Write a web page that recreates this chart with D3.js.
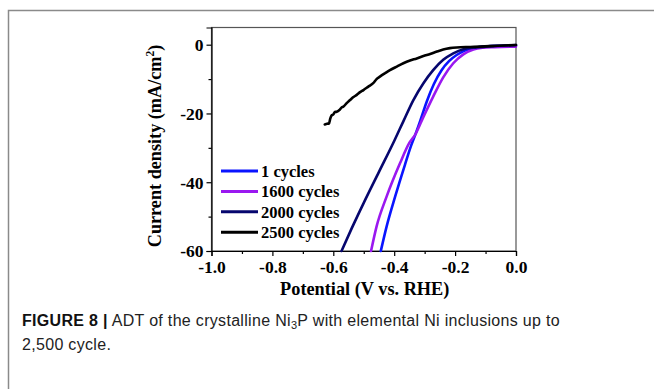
<!DOCTYPE html>
<html>
<head>
<meta charset="utf-8">
<script src="https://cdn.jsdelivr.net/npm/d3@7"></script>
<style>
    body { margin: 0; background: #fff; }
    svg { display: block; }
    .tick text { font-family: "Liberation Serif", "Times New Roman", serif; font-weight: bold; font-size: 17.5px; fill: #000; }
    .axis path, .axis line { stroke: #000; stroke-width: 1.2; }
    .series { fill: none; stroke-width: 2.6; stroke-linejoin: round; stroke-linecap: round; }
</style>
</head>
<body>
<svg id="chart" width="654" height="389"></svg>
<script>
// LSV curves: [potential V vs RHE, current density mA/cm2]
const cycles1 = [[-0.444,-60],[-0.425,-52.9],[-0.397,-44.2],[-0.365,-35.0],[-0.345,-29.5],[-0.330,-26.0],
    [-0.314,-22.0],[-0.293,-16.5],[-0.270,-11.5],[-0.245,-7.5],[-0.220,-4.8],[-0.195,-3.0],[-0.170,-1.8],
    [-0.140,-1.0],[-0.100,-0.5],[-0.050,-0.3],[0,-0.2]];
const cycles1600 = [[-0.476,-60],[-0.458,-52.9],[-0.425,-44.2],[-0.381,-34.5],[-0.350,-28.5],[-0.330,-26.0],
    [-0.304,-21.0],[-0.272,-15.1],[-0.239,-9.5],[-0.206,-5.4],[-0.173,-2.8],[-0.140,-1.4],[-0.110,-0.9],
    [-0.070,-0.7],[0,-0.55]];
const cycles2000 = [[-0.573,-60],[-0.540,-53.5],[-0.500,-46.0],[-0.450,-37.0],[-0.400,-28.0],[-0.370,-22.3],
    [-0.337,-16.1],[-0.304,-11.2],[-0.272,-7.4],[-0.239,-4.4],[-0.206,-2.5],[-0.173,-1.3],[-0.129,-0.8],
    [-0.070,-0.4],[0,-0.1]];
const cycles2500 = [[-0.628,-23.2],[-0.620,-23.0],[-0.614,-22.9],[-0.610,-21.5],[-0.606,-20.6],[-0.600,-20.3],
    [-0.595,-19.6],[-0.589,-19.5],[-0.580,-19.0],[-0.572,-18.2],[-0.567,-18.0],[-0.556,-17.0],[-0.545,-16.1],
    [-0.535,-15.3],[-0.523,-14.6],[-0.512,-13.8],[-0.501,-13.2],[-0.485,-12.2],[-0.469,-11.2],[-0.458,-10.0],
    [-0.447,-9.3],[-0.430,-8.3],[-0.414,-7.4],[-0.390,-6.3],[-0.370,-5.4],[-0.348,-4.6],[-0.326,-4.0],
    [-0.304,-3.3],[-0.282,-2.7],[-0.260,-2.0],[-0.239,-1.4],[-0.217,-1.0],[-0.195,-0.8],[-0.150,-0.65],
    [-0.118,-0.55],[-0.060,-0.3],[0,-0.1]];

const seriesNames = ["1 cycles", "1600 cycles", "2000 cycles", "2500 cycles"];
const seriesColors = ["#0a14ff", "#9a18f0", "#06066e", "#000000"];
const seriesData = [cycles1, cycles1600, cycles2000, cycles2500];

const xTicks = [-1.0, -0.8, -0.6, -0.4, -0.2, 0.0];
const xTickLabels = ["-1.0", "-0.8", "-0.6", "-0.4", "-0.2", "0.0"];
const xMinor = [-0.9, -0.7, -0.5, -0.3, -0.1];
const yTicks = [0, -20, -40, -60];
const yTickLabels = ["0", "-20", "-40", "-60"];
const yMinor = [-10, -30, -50];

const captionBold = "FIGURE 8 |";
const captionLine1 = " ADT of the crystalline Ni";
const captionLine1b = "P with elemental Ni inclusions up to";
const captionLine2 = "2,500 cycle.";

const svg = d3.select("#chart");
const serif = "'Liberation Serif', 'Times New Roman', serif";
const sans = "'Liberation Sans', Arial, Helvetica, sans-serif";

// outer figure frame (only top and left edges are visible)
svg.append("path")
    .attr("d", "M8.5,389 V10.5 H654")
    .attr("fill", "none")
    .attr("stroke", "#8a8a8a")
    .attr("stroke-width", 1.5);

const plot = { left: 211.5, right: 516, top: 27.5, bottom: 251 };
const x = d3.scaleLinear().domain([-1, 0]).range([plot.left, plot.right]);
const y = d3.scaleLinear().domain([-60, 5]).range([plot.bottom, plot.top]);

// plot box
svg.append("rect")
    .attr("x", plot.left).attr("y", plot.top)
    .attr("width", plot.right - plot.left).attr("height", plot.bottom - plot.top)
    .attr("fill", "none").attr("stroke", "#555").attr("stroke-width", 1.2);

const gx = svg.append("g").attr("class", "axis")
    .attr("transform", `translate(0,${plot.bottom})`)
    .call(d3.axisBottom(x).tickValues(xTicks).tickSize(5).tickPadding(3)
        .tickFormat((d, i) => xTickLabels[i]));
svg.append("g").attr("class", "axis")
    .attr("transform", `translate(0,${plot.bottom})`)
    .call(d3.axisBottom(x).tickValues(xMinor).tickSize(3).tickFormat(""))
    .select(".domain").remove();

const gy = svg.append("g").attr("class", "axis")
    .attr("transform", `translate(${plot.left},0)`)
    .call(d3.axisLeft(y).tickValues(yTicks).tickSize(5).tickPadding(3)
        .tickFormat((d, i) => yTickLabels[i]));
svg.append("g").attr("class", "axis")
    .attr("transform", `translate(${plot.left},0)`)
    .call(d3.axisLeft(y).tickValues(yMinor).tickSize(3).tickFormat(""))
    .select(".domain").remove();

gx.selectAll(".tick text").attr("dy", "0.8em");
gy.selectAll(".tick text").attr("dy", "0.34em");

// curves
const line = d3.line().x(d => x(d[0])).y(d => y(d[1])).curve(d3.curveMonotoneX);
svg.append("g").selectAll("path")
    .data(seriesData)
    .join("path")
    .attr("class", "series")
    .attr("stroke", (d, i) => seriesColors[i])
    .attr("d", line);

// legend
const legend = svg.append("g").attr("transform", "translate(221,171)");
seriesNames.forEach((name, i) => {
    const row = legend.append("g").attr("transform", `translate(0,${i * 20.4})`);
    row.append("line").attr("x1", 0).attr("x2", 37).attr("y1", 0).attr("y2", 0)
        .attr("stroke", seriesColors[i]).attr("stroke-width", 3);
    row.append("text").attr("x", 40).attr("dy", "0.35em")
        .attr("font-family", serif).attr("font-weight", "bold").attr("font-size", 16.5)
        .text(name);
});

// axis titles
svg.append("text")
    .attr("x", (plot.left + plot.right) / 2 + 1).attr("y", 295)
    .attr("text-anchor", "middle")
    .attr("font-family", serif).attr("font-weight", "bold").attr("font-size", 18.3)
    .text("Potential (V vs. RHE)");

const yt = svg.append("text")
    .attr("transform", "translate(161,146) rotate(-90)")
    .attr("text-anchor", "middle")
    .attr("font-family", serif).attr("font-weight", "bold").attr("font-size", 18.2);
yt.append("tspan").text("Current density (mA/cm");
yt.append("tspan").attr("font-size", 11.5).attr("dy", -7).text("2");
yt.append("tspan").attr("dy", 7).text(")");

// caption
const cap = svg.append("text")
    .attr("x", 22).attr("y", 326)
    .attr("font-family", sans).attr("font-size", 16).attr("fill", "#222");
cap.append("tspan").attr("font-weight", "bold").attr("fill", "#111").text(captionBold);
cap.append("tspan").text(captionLine1);
cap.append("tspan").attr("font-size", 11).attr("dy", 3).text("3");
cap.append("tspan").attr("dy", -3).text(captionLine1b);
const cap2 = svg.append("text")
    .attr("x", 22).attr("y", 350)
    .attr("font-family", sans).attr("font-size", 16).attr("fill", "#222")
    .text(captionLine2);

// stretch the caption to the width of the original line
const capWidth = 538;
const n = cap.text().length;
const spacing = (capWidth - cap.node().getComputedTextLength()) / n;
cap.attr("letter-spacing", spacing);
cap2.attr("letter-spacing", spacing);
</script>
</body>
</html>
